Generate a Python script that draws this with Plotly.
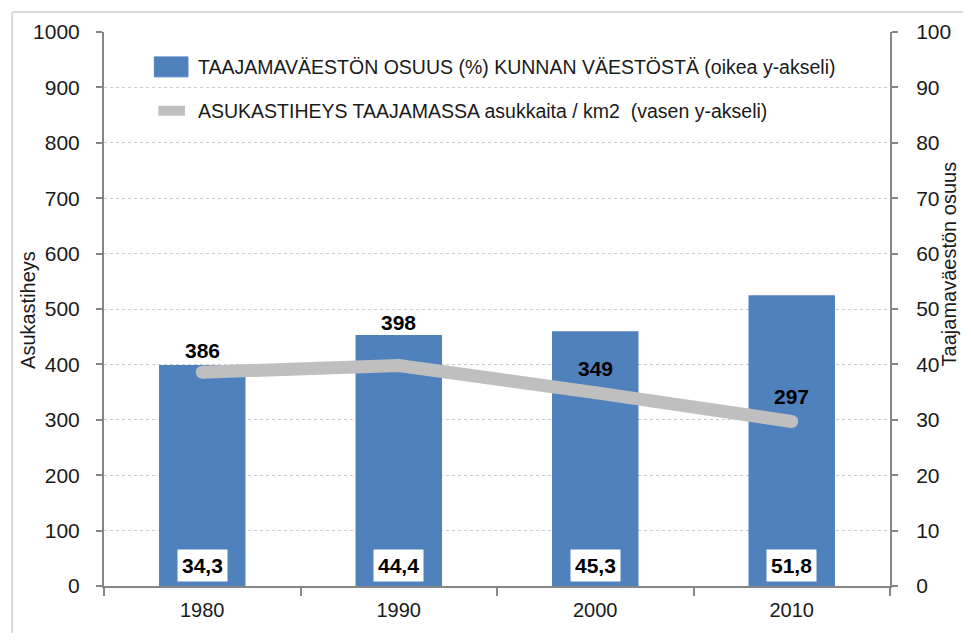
import plotly.graph_objects as go

years = ["1980", "1990", "2000", "2010"]
osuus_bar = [39.9, 45.3, 46.0, 52.5]          # bar heights as drawn (right axis, %)
osuus_labels = ["34,3", "44,4", "45,3", "51,8"]  # printed bar labels
tiheys = [386, 398, 349, 297]                  # asukkaita / km2 (left axis)
left_ticks = list(range(0, 1001, 100))
right_ticks = list(range(0, 101, 10))
legend_names = ["TAAJAMAVÄESTÖN OSUUS (%) KUNNAN VÄESTÖSTÄ (oikea y-akseli)",
                "ASUKASTIHEYS TAAJAMASSA asukkaita / km2  (vasen y-akseli)"]

OFF = 8  # page body margin
W, H = 971 - 2 * OFF, 641 - 2 * OFF
L, R, T, B = 104 - OFF, 900 - OFF, 31 - OFF, 587 - OFF
FONT = "Liberation Sans, Arial, sans-serif"
TXT = "#1a1a1a"
AX = "#868686"
BLUE = "#4F81BD"
GRAY = "#BFBFBF"

fig = go.Figure()
fig.add_trace(go.Bar(
    x=years, y=osuus_bar, yaxis="y", width=0.44,
    marker=dict(color=BLUE, line=dict(width=0)),
    name=legend_names[0], showlegend=False,
))
fig.add_trace(go.Scatter(
    x=years, y=tiheys, yaxis="y2", mode="lines+markers",
    line=dict(color=GRAY, width=13),
    marker=dict(color=GRAY, size=13, line=dict(width=0)),
    name=legend_names[1], showlegend=False,
))

pw, ph = R - L, B - T
def px_x(x):  # page pixel -> paper
    return (x - OFF - L) / pw
def px_y(y):
    return (B - (y - OFF)) / ph

ann = []
line_shift = [22, 43, 24, 25]
for i, (v, s) in enumerate(zip(tiheys, line_shift)):
    ann.append(dict(x=i, y=v, xref="x", yref="y2", text="<b>%d</b>" % v, showarrow=False,
                    yshift=s, font=dict(family=FONT, size=21, color="#000"),
                    xanchor="center", yanchor="middle"))
for i, lab in enumerate(osuus_labels):
    ann.append(dict(x=i, y=0, xref="x", yref="y", text="<b>%s</b>" % lab, showarrow=False,
                    xanchor="center", yanchor="bottom", yshift=4, bgcolor="white", borderpad=4,
                    font=dict(family=FONT, size=21, color="#000")))

ann.append(dict(x=px_x(27), y=px_y(310), xref="paper", yref="paper", text="Asukastiheys",
                showarrow=False, textangle=-90, xanchor="center", yanchor="middle",
                font=dict(family=FONT, size=20, color=TXT)))
ann.append(dict(x=px_x(960), y=px_y(264), xref="paper", yref="paper", text="Taajamaväestön osuus",
                showarrow=False, textangle=-90, xanchor="center", yanchor="middle",
                font=dict(family=FONT, size=20, color=TXT)))

# legend (manual, to match the reference symbols)
leg_y = [66, 110]
for name, yy in zip(legend_names, leg_y):
    ann.append(dict(x=px_x(197), y=px_y(yy), xref="paper", yref="paper", text=name,
                    showarrow=False, xanchor="left", yanchor="middle",
                    font=dict(family=FONT, size=19.5, color=TXT)))

shapes = [
    dict(type="line", xref="paper", yref="paper", x0=px_x(11), x1=px_x(11),
         y0=px_y(11), y1=px_y(660), line=dict(color="#d9d9d9", width=2)),
    dict(type="line", xref="paper", yref="paper", x0=px_x(11), x1=px_x(990),
         y0=px_y(11), y1=px_y(11), line=dict(color="#d9d9d9", width=2)),
    dict(type="rect", xref="paper", yref="paper", x0=px_x(155), x1=px_x(189),
         y0=px_y(76), y1=px_y(56), fillcolor=BLUE, line=dict(color=BLUE, width=1)),
    dict(type="line", xref="paper", yref="paper", x0=px_x(159), x1=px_x(186),
         y0=px_y(110), y1=px_y(110), line=dict(color=GRAY, width=10)),
]

fig.update_layout(
    width=W, height=H,
    margin=dict(l=L, r=W - R, t=T, b=H - B, pad=0),
    paper_bgcolor="white", plot_bgcolor="white",
    font=dict(family=FONT, size=20, color=TXT),
    showlegend=False,
    xaxis=dict(type="category", range=[-0.5, 3.5], showline=True, linecolor=AX, linewidth=2,
               ticks="outside", tickson="boundaries", ticklen=8, tickcolor=AX, tickwidth=2,
               showgrid=False, ticklabelstandoff=5, tickfont=dict(size=20, color=TXT)),
    yaxis=dict(side="right", range=[0, 100], tickvals=right_ticks,
               showline=True, linecolor=AX, linewidth=2,
               ticks="outside", ticklen=6, tickcolor=AX, tickwidth=2,
               showgrid=True, gridcolor="#cccccc", griddash="dot", gridwidth=1,
               zeroline=False, ticklabelstandoff=14, tickfont=dict(size=21, color=TXT)),
    yaxis2=dict(side="left", overlaying="y", range=[0, 1000], tickvals=left_ticks,
                showline=True, linecolor=AX, linewidth=2,
                ticks="outside", ticklen=6, tickcolor=AX, tickwidth=2,
                showgrid=False, zeroline=False, ticklabelstandoff=12,
                tickfont=dict(size=21, color=TXT)),
    annotations=ann, shapes=shapes,
)

fig.write_html("out.html")
